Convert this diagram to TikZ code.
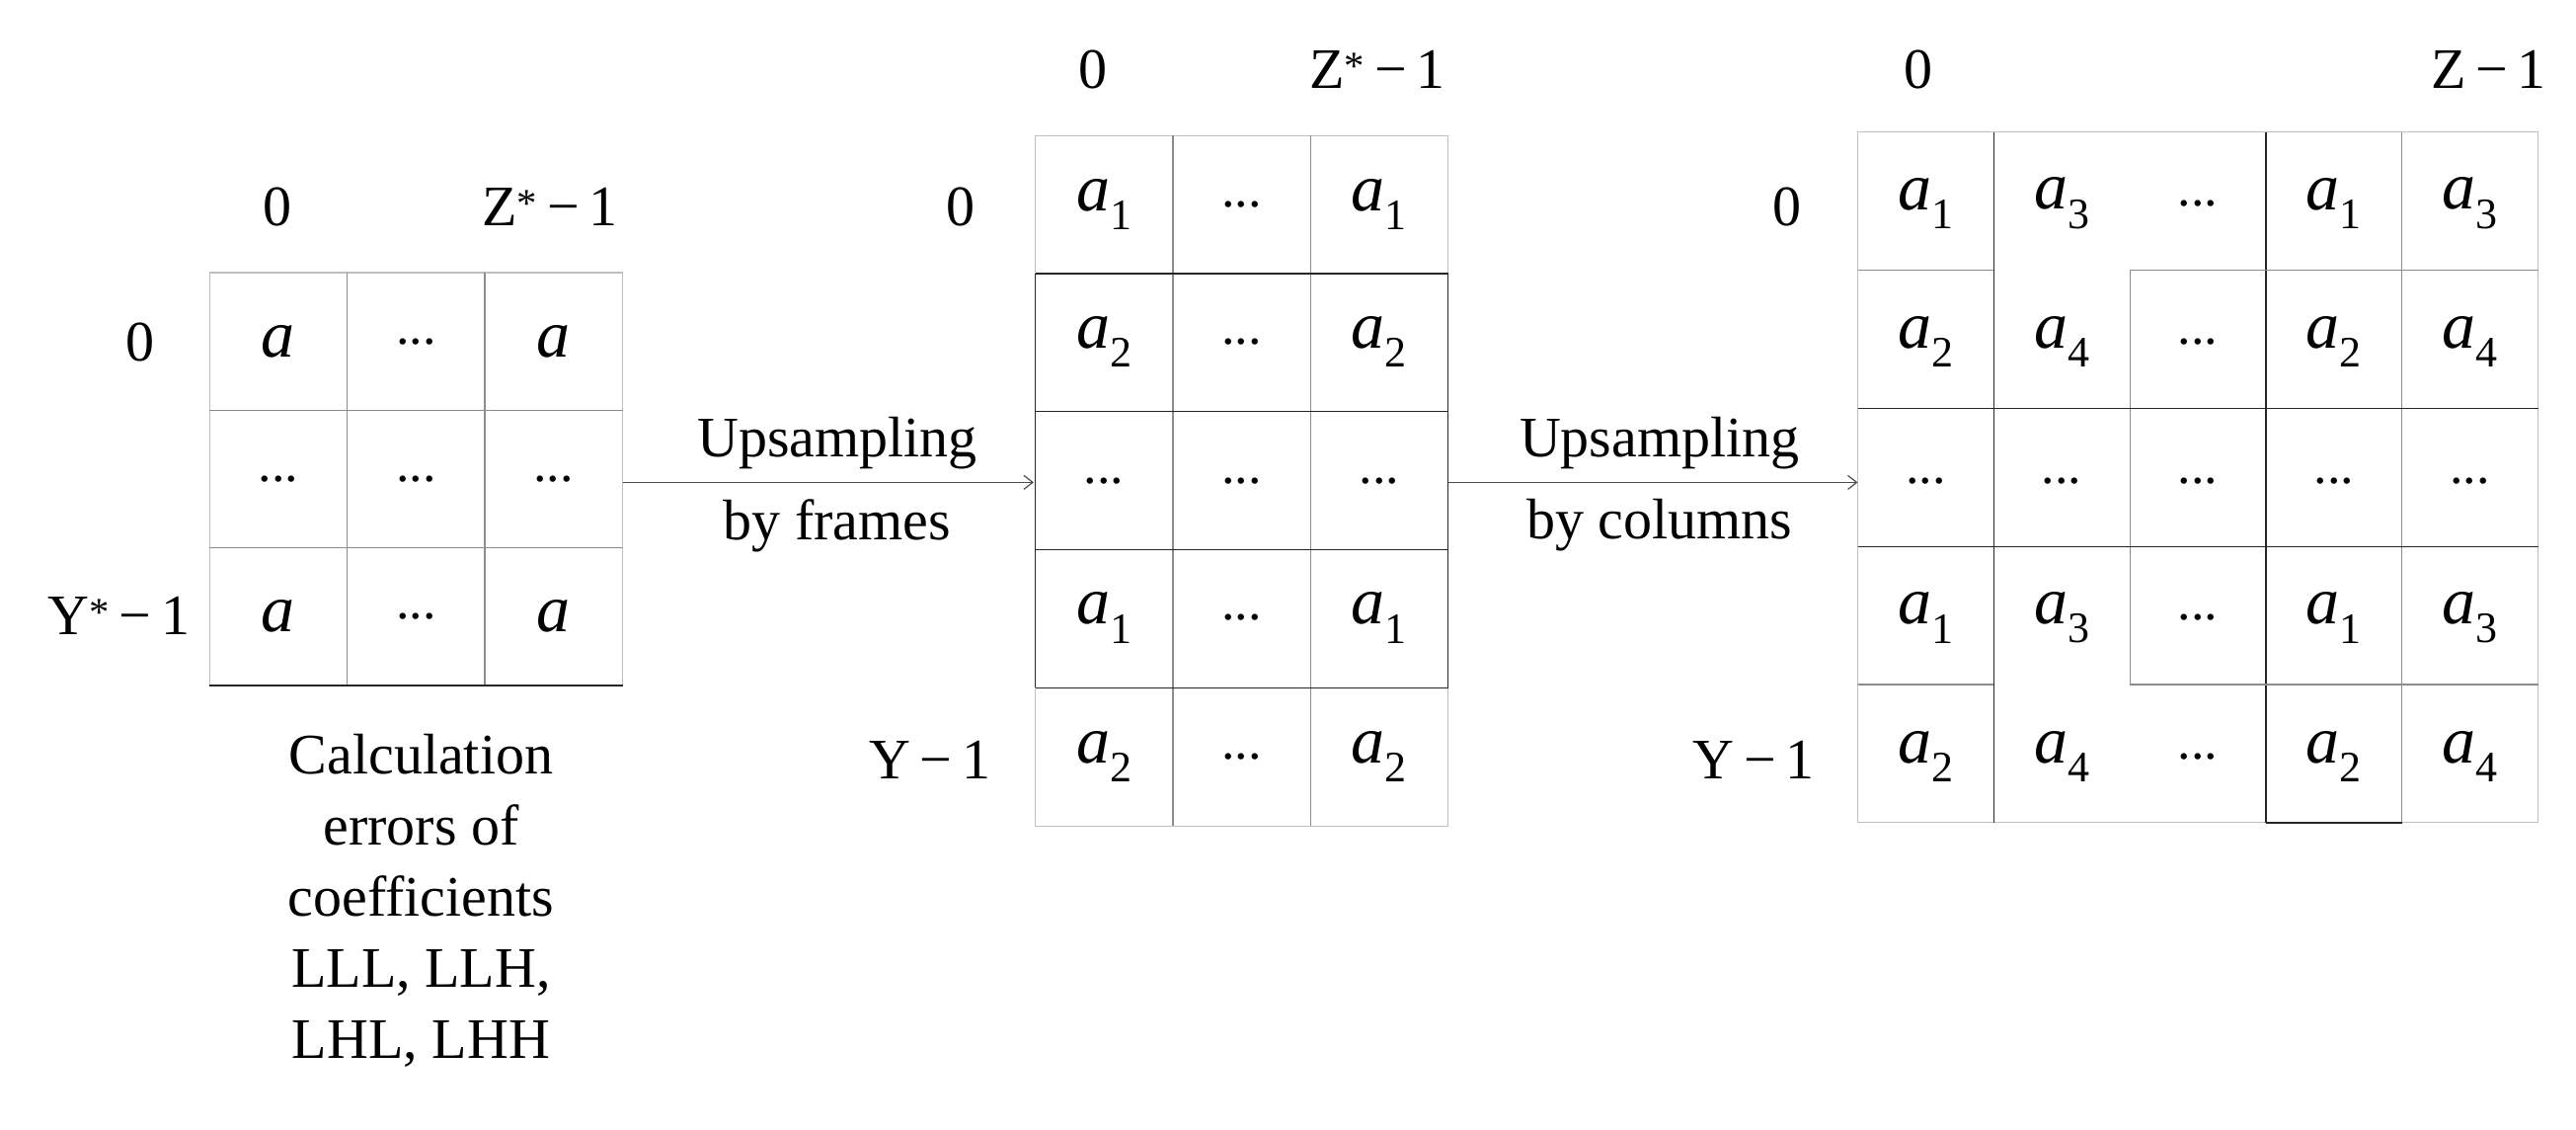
\documentclass[tikz,border=0pt]{standalone}
\usepackage{fontspec}
\setmainfont{Liberation Serif}
\usetikzlibrary{arrows.meta}
\begin{document}
\newcommand{\av}[1]{\textit{a}\raisebox{-0.28em}{\fontsize{44}{44}\selectfont #1}}
\newcommand{\dd}{{\fontsize{54}{54}\selectfont ...}}
\newcommand{\mn}{\,\char"2212\,}
\begin{tikzpicture}[x=1.672pt,y=-1.672pt,
  lbl/.style={font=\fontsize{58}{72}\selectfont, inner sep=0pt},
  cell/.style={font=\fontsize{68}{68}\selectfont, inner sep=0pt},
  lg/.style={draw=black!25, line width=1.2pt},
  md/.style={draw=black!45, line width=1.2pt},
  dk/.style={draw=black!85, line width=1.4pt},
  arr/.style={draw=black!70, line width=1.2pt, -{Straight Barb[length=9pt,width=14pt]}}]
\useasboundingbox (0,0) rectangle (1560,683.6);
% ---------- grid 1 ----------
\draw[lg] (127,165) rectangle (377,415);
\foreach \i in {1,2} \draw[md] (127+\i*83.3,165) -- (127+\i*83.3,415);
\foreach \j in {1,2} \draw[md] (127,165+\j*83.3) -- (377,165+\j*83.3);
\draw[dk] (127,415) -- (377,415);
\node[cell] (g1a) at (168.6,207) {\textit{a}};
\node[cell] (g1b) at (251.9,207) {\dd};
\node[cell] (g1c) at (335.2,207) {\textit{a}};
\node[cell] (g1d) at (168.6,290) {\dd};
\node[cell] (g1e) at (251.9,290) {\dd};
\node[cell] (g1f) at (335.2,290) {\dd};
\node[cell] (g1g) at (168.6,373) {\textit{a}};
\node[cell] (g1h) at (251.9,373) {\dd};
\node[cell] (g1i) at (335.2,373) {\textit{a}};
\node[lbl] (c1a) at (168,125) {0};
\node[lbl] (c1b) at (333,125) {Z\textsuperscript{*}\mn1};
\node[lbl] (r1a) at (85,207) {0};
\node[lbl] (r1b) at (72,373) {Y\textsuperscript{*}\mn1};
\node[lbl, align=center] (cap) at (255,545) {Calculation\\errors of\\coefficients\\LLL, LLH,\\LHL, LHH};
% ---------- grid 2 ----------
\draw[lg] (627,82) rectangle (877,500);
\foreach \i in {1,2} \draw[md] (627+\i*83.3,82) -- (627+\i*83.3,500);
\foreach \j in {1,2,3,4} \draw[dk] (627,82+\j*83.6) -- (877,82+\j*83.6);
\draw[dk] (627,165.6) -- (627,416.4);
\draw[dk] (877,165.6) -- (877,416.4);
\node[cell] (g2a) at (668.6,124) {\av{1}};
\node[cell] (g2b) at (751.9,124) {\dd};
\node[cell] (g2c) at (835.2,124) {\av{1}};
\node[cell] (g2d) at (668.6,207) {\av{2}};
\node[cell] (g2e) at (751.9,207) {\dd};
\node[cell] (g2f) at (835.2,207) {\av{2}};
\node[cell] (g2g) at (668.6,291) {\dd};
\node[cell] (g2h) at (751.9,291) {\dd};
\node[cell] (g2i) at (835.2,291) {\dd};
\node[cell] (g2j) at (668.6,374) {\av{1}};
\node[cell] (g2k) at (751.9,374) {\dd};
\node[cell] (g2l) at (835.2,374) {\av{1}};
\node[cell] (g2m) at (668.6,458) {\av{2}};
\node[cell] (g2n) at (751.9,458) {\dd};
\node[cell] (g2o) at (835.2,458) {\av{2}};
\node[lbl] (c2a) at (662,42) {0};
\node[lbl] (c2b) at (834,42) {Z\textsuperscript{*}\mn1};
\node[lbl] (r2a) at (582,125) {0};
\node[lbl] (r2b) at (563,460) {Y\mn1};
% ---------- grid 3 ----------
\draw[lg] (1125,80) rectangle (1537,498);
\draw[dk] (1207.4,80) -- (1207.4,498);
\draw[md] (1289.8,164) -- (1289.8,414);
\draw[dk] (1372.2,80) -- (1372.2,498);
\draw[md] (1454.6,80) -- (1454.6,498);
\draw[md] (1125,163.6) -- (1207.4,163.6);
\draw[md] (1289.8,163.6) -- (1372.2,163.6);
\draw[md] (1372.2,163.6) -- (1537,163.6);
\draw[dk] (1125,247.2) -- (1537,247.2);
\draw[dk] (1125,330.8) -- (1537,330.8);
\draw[md] (1125,414.4) -- (1207.4,414.4);
\draw[md] (1289.8,414.4) -- (1537,414.4);
\draw[dk] (1372.2,498) -- (1454.6,498);
\node[cell] (g3a) at (1166.2,123) {\av{1}};
\node[cell] (g3b) at (1248.6,123) {\av{3}};
\node[cell] (g3c) at (1331,123) {\dd};
\node[cell] (g3d) at (1413.4,123) {\av{1}};
\node[cell] (g3e) at (1495.8,123) {\av{3}};
\node[cell] (g3f) at (1166.2,207) {\av{2}};
\node[cell] (g3g) at (1248.6,207) {\av{4}};
\node[cell] (g3h) at (1331,207) {\dd};
\node[cell] (g3i) at (1413.4,207) {\av{2}};
\node[cell] (g3j) at (1495.8,207) {\av{4}};
\node[cell] (g3k) at (1166.2,291) {\dd};
\node[cell] (g3l) at (1248.6,291) {\dd};
\node[cell] (g3m) at (1331,291) {\dd};
\node[cell] (g3n) at (1413.4,291) {\dd};
\node[cell] (g3o) at (1495.8,291) {\dd};
\node[cell] (g3p) at (1166.2,374) {\av{1}};
\node[cell] (g3q) at (1248.6,374) {\av{3}};
\node[cell] (g3r) at (1331,374) {\dd};
\node[cell] (g3s) at (1413.4,374) {\av{1}};
\node[cell] (g3t) at (1495.8,374) {\av{3}};
\node[cell] (g3u) at (1166.2,458) {\av{2}};
\node[cell] (g3v) at (1248.6,458) {\av{4}};
\node[cell] (g3w) at (1331,458) {\dd};
\node[cell] (g3x) at (1413.4,458) {\av{2}};
\node[cell] (g3y) at (1495.8,458) {\av{4}};
\node[lbl] (c3a) at (1162,42) {0};
\node[lbl] (c3b) at (1507,42) {Z\mn1};
\node[lbl] (r3a) at (1082,125) {0};
\node[lbl] (r3b) at (1062,460) {Y\mn1};
% ---------- arrows ----------
\coordinate (s1) at (377,292); \coordinate (e1) at (626,292);
\coordinate (s2) at (877,292); \coordinate (e2) at (1125,292);
\draw[arr] (s1) -- (e1);
\draw[arr] (s2) -- (e2);
\node[lbl] (u1) at (507,268) {Upsampling};
\node[lbl] (b1) at (507,318) {by frames};
\node[lbl] (u2) at (1005,268) {Upsampling};
\node[lbl] (b2) at (1005,318) {by columns};
\end{tikzpicture}
\end{document}
